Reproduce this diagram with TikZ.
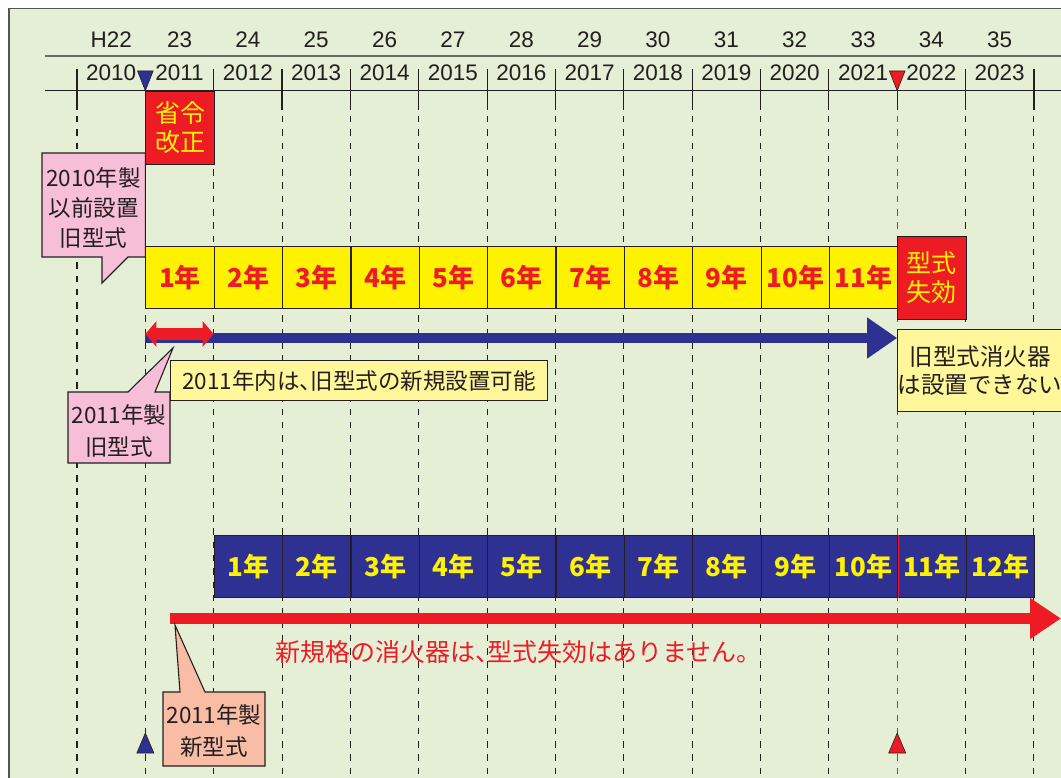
\documentclass[tikz,border=0pt]{standalone}
\usepackage{fontspec}
\setmainfont{Liberation Sans}
\newfontfamily\cjk{Noto Sans CJK JP}
\usetikzlibrary{arrows.meta}
\definecolor{bggreen}{RGB}{228,239,214}
\definecolor{dark}{RGB}{35,31,32}
\definecolor{midgray}{RGB}{105,105,105}
\definecolor{tred}{RGB}{237,28,36}
\definecolor{tyellow}{RGB}{255,242,0}
\definecolor{tblue}{RGB}{46,49,146}
\definecolor{tpink}{RGB}{247,190,216}
\definecolor{pale}{RGB}{255,247,153}
\definecolor{salmon}{RGB}{249,189,166}
\def\cx#1{(77+68.35*(#1))}
\newcommand\hcomma{\makebox[0.5em][l]{、}}
\begin{document}
\begin{tikzpicture}[x=1pt,y=-1pt,
  tick/.style={draw=dark, line width=1.2pt},
  vdash/.style={draw=dark, line width=1.1pt, dash pattern=on 6.5pt off 6.8pt},
  hdr/.style={text=dark, font=\fontsize{22.5}{24}\selectfont, inner sep=0pt},
  marker/.style={draw=dark, line width=0.6pt},
  ycell/.style={draw=dark, line width=1.1pt, fill=tyellow, text=tred, minimum width=68.35pt, minimum height=61.7pt, inner sep=0pt, anchor=north west, font=\cjk\bfseries\fontsize{26}{28}\selectfont},
  bcell/.style={draw=dark, line width=1.1pt, fill=tblue, text=tyellow, minimum width=68.35pt, minimum height=62pt, inner sep=0pt, anchor=north west, font=\cjk\bfseries\fontsize{26}{28}\selectfont},
  redbox/.style={draw=dark, line width=1.1pt, fill=tred, text=tyellow, inner sep=0pt, anchor=north west, align=center, font=\cjk\fontsize{25}{29}\selectfont},
  callout/.style={draw=dark, line width=1.1pt},
  ctext/.style={text=dark, align=center, inner sep=0pt, font=\cjk\fontsize{22}{31}\selectfont}
]
\path[use as bounding box] (0,0) rectangle (1061,778);
\fill[bggreen] (9,8.5) rectangle (1062,779);
\draw[line width=1.5pt, draw=midgray!80!black] (9,779) -- (9,8.5) -- (1062,8.5);

% header lines
\draw[line width=1.3pt, draw=midgray] (45,56) -- (1062,56);
\draw[line width=1.3pt, draw=dark] (45,90.7) -- (1062,90.7);

% ticks and verticals
\foreach \k in {0,2,3,...,11,13,14} { \draw[tick] ({\cx{\k}},69) -- ({\cx{\k}},90.7); }
\foreach \k in {0,...,14} { \draw[tick] ({\cx{\k}},90.7) -- ({\cx{\k}},110); }
\foreach \k in {0,...,11,13,14} { \draw[vdash] ({\cx{\k}},116) -- ({\cx{\k}},779); }
\draw[draw=tred, line width=0.9pt, dash pattern=on 6.5pt off 6.8pt] ({\cx{12}},116) -- ({\cx{12}},779);

% labels
\foreach \t [count=\i from 0] in {H22,23,24,25,26,27,28,29,30,31,32,33,34,35} {
  \node[hdr] (era\i) at ({\cx{\i+0.5}},40) {\t};
}
\foreach \i in {0,...,13} {
  \pgfmathtruncatemacro\yy{2010+\i}
  \node[hdr] (yr\i) at ({\cx{\i+0.5}},73) {\yy};
}

% top markers
\filldraw[marker, fill=tblue] ({\cx{1}-7.8},71) -- ({\cx{1}+7.8},71) -- ({\cx{1}},90.7) -- cycle;
\filldraw[marker, fill=tred] ({\cx{12}-7.8},71) -- ({\cx{12}+7.8},71) -- ({\cx{12}},90.7) -- cycle;

% revision box
\node[redbox, minimum width=68.35pt, minimum height=73.3pt] (shorei) at ({\cx{1}},90.7) {省令\\改正};

% callout 2010
\filldraw[callout, fill=tpink] (42,153) -- ({\cx{1}},153) -- ({\cx{1}},257) -- (128,257) -- (102,283) -- (102,257) -- (42,257) -- cycle;
\node[ctext, font=\cjk\fontsize{22.5}{30}\selectfont] (c2010) at (93.5,208) {2010年製\\以前設置\\旧型式};

% yellow row
\foreach \k in {1,...,11} {
  \node[ycell] (y\k) at ({\cx{\k}},246) {\k 年};
}
\node[redbox, minimum width=68.35pt, minimum height=83pt] (shikko) at ({\cx{12}},236) {型式\\失効};

% blue arrow and red double arrow
\coordinate (bA) at ({\cx{1}},338);
\coordinate (bB) at ({\cx{12}},338);
\draw[draw=tblue, line width=10pt, -{Triangle[length=30pt,width=39pt]}] (bA) -- (bB);
\coordinate (rdA) at ({\cx{1}},334);
\coordinate (rdB) at ({\cx{2}},334);
\draw[draw=tred, line width=12pt, {Triangle[length=11pt,width=25pt]}-{Triangle[length=11pt,width=25pt]}] (rdA) -- (rdB);

% callout: 2011 within
\node[callout, fill=pale, minimum width=377pt, minimum height=40pt, inner sep=0pt, anchor=north west, text=dark, font=\cjk\fontsize{22.5}{26}\selectfont] (inner2011) at (170,360) {2011年内は\hcomma 旧型式の新規設置可能};

% callout 2011 old type
\filldraw[callout, fill=tpink] (68,392) -- (128,392) -- (173,348) -- (155,392) -- (170,392) -- (170,463) -- (68,463) -- cycle;
\node[ctext, font=\cjk\fontsize{22.5}{32}\selectfont] (c2011old) at (119,431) {2011年製\\旧型式};

% callout: cannot install
\node[callout, fill=pale, minimum width=162.8pt, minimum height=82pt, inner sep=0pt, anchor=north west, text=dark, align=center, font=\cjk\fontsize{23.5}{28}\selectfont] (cannot) at ({\cx{12}},329) {旧型式消火器\\は設置できない};

% blue row
\foreach \k in {1,...,12} {
  \node[bcell] (b\k) at ({\cx{\k+1}},535) {\k 年};
}
\draw[draw=tred, line width=1pt] (b10.north east) -- (b10.south east);

% red arrow
\coordinate (rA) at (170,618.5);
\coordinate (rB) at (1061,618.5);
\draw[draw=tred, line width=11pt, -{Triangle[length=31pt,width=39pt]}] (rA) -- (rB);
\node[text=tred, inner sep=0pt, font=\cjk\fontsize{25}{26}\selectfont] (newnote) at (518.5,652) {新規格の消火器は\hcomma 型式失効はありません。};

% callout new type
\filldraw[callout, fill=salmon] (163,692) -- (180,692) -- (175,625) -- (205,692) -- (265,692) -- (265,766) -- (163,766) -- cycle;
\node[ctext, font=\cjk\fontsize{22.5}{32}\selectfont] (c2011new) at (214,731) {2011年製\\新型式};

% bottom markers
\filldraw[marker, fill=tblue] ({\cx{1}-8.5},753) -- ({\cx{1}+8.5},753) -- ({\cx{1}},733) -- cycle;
\filldraw[marker, fill=tred] ({\cx{12}-8.5},753) -- ({\cx{12}+8.5},753) -- ({\cx{12}},733) -- cycle;
\end{tikzpicture}
\end{document}
